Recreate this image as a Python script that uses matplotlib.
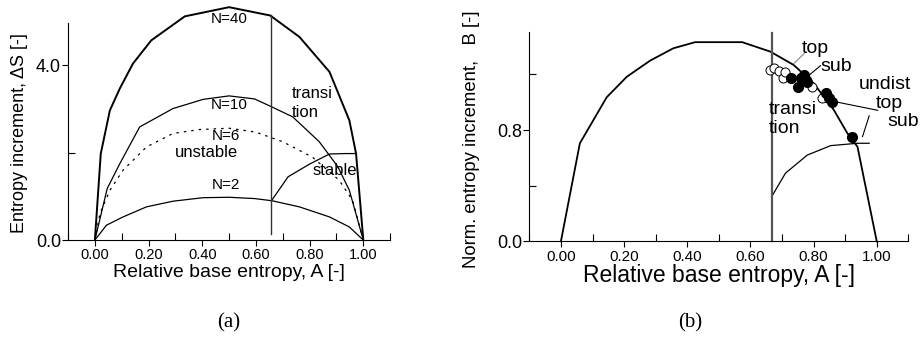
import matplotlib
matplotlib.use("Agg")
import matplotlib.pyplot as plt
from matplotlib.ticker import MultipleLocator

plt.rcParams['font.family'] = ['Liberation Sans', 'DejaVu Sans']

# ---- panel (a): entropy increment curves ----
n40_a = [0.0, 0.022, 0.056, 0.093, 0.142, 0.21, 0.335, 0.5, 0.653, 0.762, 0.874, 0.948, 0.973, 1.0]
n40_s = [0.0, 1.98, 2.97, 3.47, 4.04, 4.57, 5.12, 5.33, 5.14, 4.65, 3.85, 2.74, 1.98, 0.0]

n10_a = [0.0, 0.046, 0.093, 0.167, 0.291, 0.403, 0.5, 0.595, 0.655, 0.737, 0.836, 0.905, 0.948, 1.0]
n10_s = [0.0, 1.18, 1.75, 2.59, 3.01, 3.22, 3.30, 3.23, 3.06, 2.82, 2.25, 1.68, 1.14, 0.0]

n6_a = [0.0, 0.019, 0.056, 0.105, 0.192, 0.291, 0.39, 0.5, 0.6, 0.70, 0.81, 0.91, 0.96, 1.0]
n6_s = [0.0, 0.61, 1.14, 1.60, 2.13, 2.44, 2.53, 2.56, 2.47, 2.25, 1.90, 1.37, 0.91, 0.0]

n2_a = [0.0, 0.043, 0.105, 0.192, 0.291, 0.403, 0.5, 0.595, 0.66, 0.762, 0.874, 0.948, 1.0]
n2_s = [0.0, 0.34, 0.53, 0.76, 0.89, 0.97, 0.98, 0.95, 0.90, 0.76, 0.53, 0.30, 0.0]

stable_a = [0.66, 0.72, 0.80, 0.874, 0.93, 0.973]
stable_s = [0.92, 1.45, 1.74, 1.97, 1.98, 1.98]

transition_a = 0.655
transition_s = [0.15, 5.14]

# ---- panel (b): normalised entropy increment ----
env_a = [0.0, 0.060, 0.145, 0.209, 0.283, 0.356, 0.425, 0.574, 0.663, 0.737, 0.80, 0.864, 0.907, 0.939, 1.0]
env_b = [0.0, 0.705, 1.036, 1.184, 1.30, 1.388, 1.432, 1.432, 1.364, 1.268, 1.137, 0.945, 0.777, 0.68, 0.0]

low_a = [0.667, 0.711, 0.78, 0.854, 0.939, 0.976]
low_b = [0.32, 0.49, 0.62, 0.688, 0.705, 0.705]

open_a = [0.663, 0.676, 0.690, 0.702, 0.711, 0.796, 0.828]
open_b = [1.232, 1.245, 1.225, 1.177, 1.216, 1.112, 1.029]

filled_a = [0.729, 0.750, 0.759, 0.769, 0.775, 0.778, 0.838, 0.849, 0.859, 0.923]
filled_b = [1.177, 1.112, 1.173, 1.196, 1.160, 1.146, 1.065, 1.029, 1.004, 0.753]

transition_b = 0.667

fig = plt.figure(figsize=(9.23, 3.42), dpi=100)
ax1 = fig.add_axes([0.0737, 0.298, 0.349, 0.635])
ax2 = fig.add_axes([0.5735, 0.2944, 0.4106, 0.612])


def style_axes(ax, xfs, yfs):
    for side in ('top', 'right'):
        ax.spines[side].set_visible(False)
    ax.set_xlim(-0.1, 1.1)
    ax.xaxis.set_major_locator(MultipleLocator(0.2))
    ax.xaxis.set_minor_locator(MultipleLocator(0.1))
    ax.xaxis.set_major_formatter(plt.FormatStrFormatter('%.2f'))
    ax.yaxis.set_major_formatter(plt.FormatStrFormatter('%.1f'))
    ax.tick_params(which='major', direction='out', length=4, width=0.8)
    ax.tick_params(which='minor', direction='in', length=5, width=0.8)
    ax.tick_params(axis='x', which='major', labelsize=xfs, pad=2)
    ax.tick_params(axis='y', which='major', labelsize=yfs, pad=1)


# panel (a)
ax1.plot(n40_a, n40_s, color='black', lw=1.4, clip_on=False)
ax1.plot(n10_a, n10_s, color='black', lw=0.9, clip_on=False)
ax1.plot(n6_a, n6_s, color='black', lw=0.9, ls=(0, (2, 4)), clip_on=False)
ax1.plot(n2_a, n2_s, color='black', lw=0.9, clip_on=False)
ax1.plot(stable_a, stable_s, color='black', lw=0.9, clip_on=False)
ax1.plot([transition_a, transition_a], transition_s, color='#333333', lw=1.0, clip_on=False)

style_axes(ax1, 10.5, 13)
ax1.set_ylim(0, 4.97)
ax1.yaxis.set_major_locator(plt.FixedLocator([0.0, 4.0]))
ax1.yaxis.set_minor_locator(plt.FixedLocator([2.0]))
ax1.set_xlabel('Relative base entropy, A [-]', fontsize=14, labelpad=1)

ax1.text(0.50, 5.05, 'N=40', fontsize=11, ha='center', va='center')
ax1.text(0.50, 3.1, 'N=10', fontsize=11, ha='center', va='center')
ax1.text(0.49, 2.38, 'N=6', fontsize=11, ha='center', va='center')
ax1.text(0.416, 2.01, 'unstable', fontsize=12, ha='center', va='center')
ax1.text(0.49, 1.26, 'N=2', fontsize=11, ha='center', va='center')
ax1.text(0.81, 3.36, 'transi', fontsize=12, ha='center', va='center')
ax1.text(0.784, 2.91, 'tion', fontsize=12, ha='center', va='center')
ax1.text(0.895, 1.59, 'stable', fontsize=12, ha='center', va='center')

fig.text(20 / 923, 0.319, 'Entropy increment, \u0394S [-]', rotation=90,
         ha='center', va='bottom', fontsize=13)

# panel (b)
ax2.plot(env_a, env_b, color='black', lw=1.3, clip_on=False)
ax2.plot(low_a, low_b, color='black', lw=0.9)
ax2.plot([transition_b, transition_b], [0.0, 1.496], color='#555555', lw=1.6, clip_on=False)
ax2.plot(open_a, open_b, 'o', ms=6.5, mfc='white', mec='black', mew=0.7, ls='none')
ax2.plot(filled_a, filled_b, 'o', ms=7, color='black', ls='none')

# leader lines for labels
ax2.plot([0.737, 0.770], [1.277, 1.350], color='#888888', lw=0.8)
ax2.plot([0.778, 0.822], [1.180, 1.263], color='black', lw=0.8)
ax2.plot([0.870, 1.003], [1.003, 0.942], color='black', lw=0.8)
ax2.plot([0.955, 0.976], [0.753, 0.902], color='black', lw=0.8)

style_axes(ax2, 11, 13)
ax2.set_ylim(0, 1.505)
ax2.yaxis.set_major_locator(plt.FixedLocator([0.0, 0.8]))
ax2.yaxis.set_minor_locator(plt.FixedLocator([0.4, 1.2]))
ax2.set_xlabel('Relative base entropy, A [-]', fontsize=16.5, labelpad=0)

ax2.text(0.764, 1.388, 'top', fontsize=14, ha='left', va='center')
ax2.text(0.822, 1.256, 'sub', fontsize=14, ha='left', va='center')
ax2.text(0.944, 1.124, 'undist', fontsize=14, ha='left', va='center')
ax2.text(0.997, 0.993, 'top', fontsize=14, ha='left', va='center')
ax2.text(1.034, 0.860, 'sub', fontsize=14, ha='left', va='center')
ax2.text(0.658, 0.945, 'transi', fontsize=14, ha='left', va='center')
ax2.text(0.658, 0.813, 'tion', fontsize=14, ha='left', va='center')

fig.text(472 / 923, 1 - 268 / 342, 'Norm. entropy increment,   B [-]', rotation=90,
         ha='center', va='bottom', fontsize=13.3)

# captions
fig.text(229 / 923, 1 - 323 / 342, '(a)', family='Liberation Serif', fontsize=15,
         ha='center', va='center')
fig.text(690 / 923, 1 - 323 / 342, '(b)', family='Liberation Serif', fontsize=15,
         ha='center', va='center')

fig.savefig('out.png', dpi=100)
